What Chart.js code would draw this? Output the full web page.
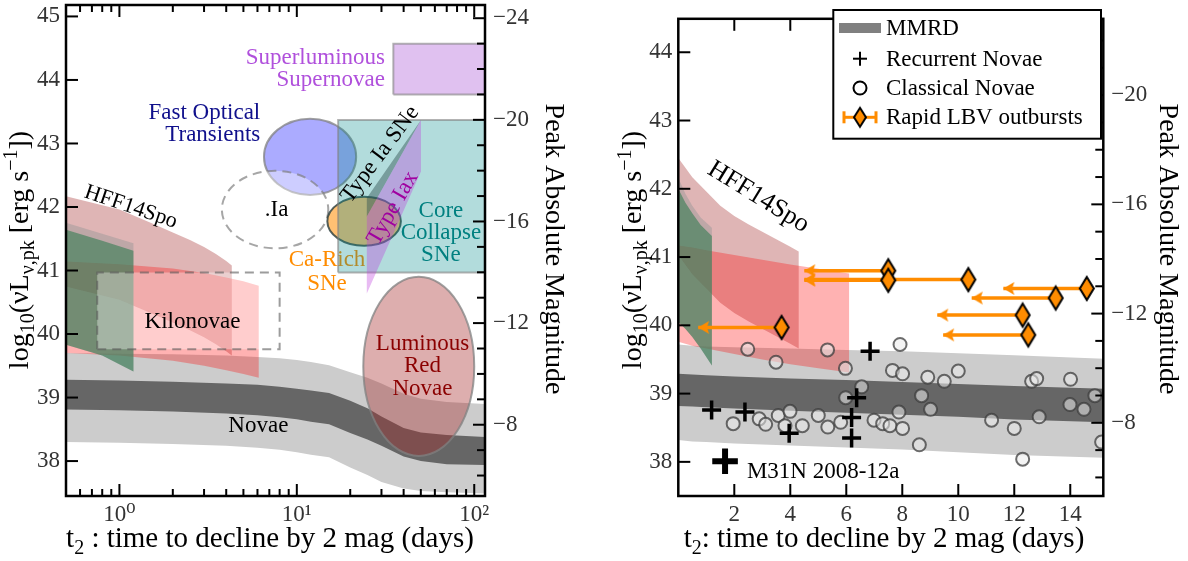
<!DOCTYPE html>
<html><head><meta charset="utf-8"><title>Peak luminosity vs t2</title>
<script src="https://cdn.jsdelivr.net/npm/chart.js@4.4.1/dist/chart.umd.min.js"></script>
<style>
html,body{margin:0;padding:0;background:#fff;width:1188px;height:561px;overflow:hidden}
canvas{position:absolute;top:0}
#cLeft{left:0}
#cRight{left:594px}
</style></head>
<body>
<canvas id="cLeft" width="594" height="561"></canvas>
<canvas id="cRight" width="594" height="561"></canvas>
<script>
const FONT = "'Liberation Serif', 'DejaVu Serif', serif";
const MAG_ZP = 88.43; // M = MAG_ZP - 2.5 log10(L)

// ---------------- axis ranges & ticks ----------------
const leftTRange = [0.5, 115];
const leftLRange = [37.45, 45.18];
const rightTRange = [0, 15.18];
const rightLRange = [37.5, 44.49];
const leftTTicks = [1, 10, 100];
const leftTTickLabels = ['10⁰', '10¹', '10²'];
const leftTMinorTicks = [0.5,0.6,0.7,0.8,0.9,2,3,4,5,6,7,8,9,20,30,40,50,60,70,80,90];
const leftLTicks = [38,39,40,41,42,43,44,45];
const leftMagTicks = [-24,-20,-16,-12,-8];
const rightTTicks = [2,4,6,8,10,12,14];
const rightLTicks = [38,39,40,41,42,43,44];
const rightMagTicks = [-20,-16,-12,-8];

// ---------------- MMRD bands (t2 days, log L) ----------------
const mmrdT        = [0, 0.5, 1, 2, 4, 6, 8, 10, 12, 15.2, 20, 25, 30, 40, 50, 70, 115];
const mmrdOuterTop = [39.72, 39.70, 39.69, 39.68, 39.66, 39.64, 39.62, 39.59, 39.56, 39.51, 39.40, 39.31, 39.22, 39.06, 38.98, 38.93, 38.90];
const mmrdInnerTop = [39.29, 39.28, 39.27, 39.25, 39.22, 39.20, 39.17, 39.14, 39.11, 39.07, 38.95, 38.83, 38.70, 38.52, 38.45, 38.41, 38.38];
const mmrdInnerBot = [38.82, 38.81, 38.80, 38.78, 38.75, 38.72, 38.69, 38.66, 38.62, 38.58, 38.44, 38.34, 38.24, 38.07, 38.00, 37.95, 37.94];
const mmrdOuterBot = [38.32, 38.30, 38.29, 38.27, 38.24, 38.21, 38.18, 38.14, 38.10, 38.06, 37.90, 37.78, 37.67, 37.57, 37.53, 37.51, 37.49];

// ---------------- HFF14Spo constraint regions ----------------
const hffRosyT   = [0, 0.5, 1, 1.5, 2, 2.5, 3, 3.5, 4, 4.3];
const hffRosyTop = [42.45, 42.17, 41.96, 41.75, 41.60, 41.48, 41.37, 41.26, 41.15, 41.08];
const hffRosyBot = [41.03, 40.75, 40.54, 40.33, 40.18, 40.06, 39.95, 39.84, 39.73, 39.66];
const hffRedT    = [0, 0.5, 1, 2, 3, 4, 5, 6.1];
const hffRedTop  = [41.17, 41.14, 41.10, 41.03, 40.96, 40.89, 40.83, 40.76];
const hffRedBot  = [39.76, 39.70, 39.66, 39.58, 39.50, 39.43, 39.37, 39.31];
const hffGreenT  = [0, 0.25, 0.5, 0.8, 1.2];
const hffGreyTop = [42.16, 41.93, 41.75, 41.58, 41.43];
const hffGreenTop= [42.00, 41.80, 41.64, 41.47, 41.31];
const hffGreenBot= [40.05, 39.95, 39.83, 39.66, 39.41];

// ---------------- other transient classes (left panel) ----------------
const ccT = [17.1, 200],  ccL = [40.97, 43.37];
const slsnT = [35, 200],  slsnL = [43.77, 44.57];
const knT = [0.75, 8.0],  knL = [39.76, 40.97];
const iaT  = [50.1, 24.8, 24.8],        iaL  = [43.37, 42.14, 41.85];
const iaxT = [50.1, 50.1, 24.8, 24.8],  iaxL = [43.37, 42.56, 40.64, 41.85];
const ellipseNames = ['Fast Optical Transients', '.Ia', 'Ca-Rich SNe', 'Luminous Red Novae'];
const ellipseTmin = [6.53, 3.78, 14.86, 23.7];
const ellipseTmax = [21.6, 15.04, 38.6, 100];
const ellipseLmin = [42.19, 41.35, 41.39, 38.08];
const ellipseLmax = [43.39, 42.57, 42.16, 40.90];

// ---------------- right panel points ----------------
const cnT = [2.48,3.49,5.33,5.97,6.55,5.98,1.96,2.89,3.12,3.57,3.99,3.81,4.43,5.00,5.34,5.80,6.99,7.30,7.56,7.88,8.01,7.65,8.01,7.92,8.69,8.91,9.01,9.50,10.0,8.61,11.19,12.0,12.3,12.62,12.8,12.89,14.01,13.99,14.49,14.88,15.12];
const cnL = [39.65,39.46,39.64,39.37,39.10,38.94,38.56,38.63,38.55,38.68,38.74,38.53,38.53,38.68,38.51,38.58,38.61,38.56,38.53,38.73,38.49,39.34,39.29,39.72,38.97,39.24,38.77,39.18,39.33,38.25,38.61,38.49,38.04,39.18,39.22,38.66,39.21,38.84,38.77,38.97,38.29];
const rnT = [1.19, 2.38, 3.96, 6.19, 6.19, 6.37, 6.85];
const rnL = [38.76, 38.73, 38.42, 38.65, 38.35, 38.94, 39.62];
const m31T = [1.67], m31L = [38.01];
const lbvT    = [3.69, 7.5, 7.5, 10.36, 14.59, 13.48, 12.3, 12.5];
const lbvL    = [39.97, 40.80, 40.66, 40.67, 40.54, 40.40, 40.15, 39.86];
const lbvTmin = [0.71, 4.5, 4.5, 4.5, 11.61, 10.48, 9.25, 9.46];

// ---------------- helpers ----------------
function pts(ts, ls, keep) { const o=[]; ts.forEach((t,i)=>{ if(!keep||keep(t)) o.push({x:t,y:ls[i]}); }); return o; }
function bandPts(ts, top, bot, keep) { return pts(ts,top,keep).concat(pts(ts,bot,keep).reverse()); }
function boxPts(tr, lr) { return [{x:tr[0],y:lr[0]},{x:tr[1],y:lr[0]},{x:tr[1],y:lr[1]},{x:tr[0],y:lr[1]},{x:tr[0],y:lr[0]}]; }
function closed(p) { return p.concat([p[0]]); }
function areaDs(label, data, fill, stroke, lw, dash) {
  return {type:'line', label, data, fill:'shape', backgroundColor:fill,
    borderColor: stroke || 'rgba(0,0,0,0)', borderWidth: stroke ? (lw||2) : 0, borderDash: dash||[],
    pointRadius:0, pointHoverRadius:0, tension:0};
}
function ellipseDs(i, fill, stroke, dash) {
  return {type:'scatter', label: ellipseNames[i],
    data:[{x:Math.sqrt(ellipseTmin[i]*ellipseTmax[i]), y:(ellipseLmin[i]+ellipseLmax[i])/2}],
    pointRadius:0, backgroundColor:'rgba(0,0,0,0)', borderColor:'rgba(0,0,0,0)',
    ellipse:{t0:ellipseTmin[i], t1:ellipseTmax[i], L0:ellipseLmin[i], L1:ellipseLmax[i], fill, stroke, dash}};
}
function setOrder(list){ list.forEach((d,i)=>{ d.order = list.length - i; }); return list; }

function diamondImg(w,h,lw){
  const c=document.createElement('canvas'); c.width=w+lw*2+2; c.height=h+lw*2+2;
  const g=c.getContext('2d'); const cx=c.width/2, cy=c.height/2;
  g.beginPath(); g.moveTo(cx,cy-h/2); g.lineTo(cx+w/2,cy); g.lineTo(cx,cy+h/2); g.lineTo(cx-w/2,cy); g.closePath();
  g.fillStyle='#ff8c00'; g.fill(); g.lineWidth=lw; g.strokeStyle='#000'; g.lineJoin='miter'; g.stroke();
  return c;
}
function arrowImg(len, half){
  const c=document.createElement('canvas'); c.width=2*len+4; c.height=2*half+4;
  const g=c.getContext('2d'); const cx=c.width/2, cy=c.height/2;
  g.beginPath(); g.moveTo(cx,cy); g.lineTo(cx+len,cy-half); g.lineTo(cx+len*0.8,cy); g.lineTo(cx+len,cy+half); g.closePath();
  g.fillStyle='#ff8c00'; g.fill();
  return c;
}

function drawRich(ctx, parts, cx, cy, rotDeg, size) {
  ctx.save(); ctx.translate(cx, cy); ctx.rotate(rotDeg*Math.PI/180);
  ctx.fillStyle='#000'; ctx.textBaseline='alphabetic'; ctx.textAlign='left';
  const fonts = parts.map(p => `${p.s ? Math.round(size*0.7) : size}px ${FONT}`);
  const widths = parts.map((p,i)=>{ ctx.font=fonts[i]; return ctx.measureText(p.t).width; });
  let x = -widths.reduce((a,b)=>a+b,0)/2;
  const base = size*0.32;
  parts.forEach((p,i)=>{ ctx.font=fonts[i];
    const dy = p.s==='sub' ? size*0.22 : (p.s==='sup' ? -size*0.38 : 0);
    ctx.fillText(p.t, x, base+dy); x += widths[i]; });
  ctx.restore();
}
function drawLabel(chart, l) {
  const {ctx, scales} = chart;
  const x = scales.x.getPixelForValue(l.t), y = scales.y.getPixelForValue(l.L);
  ctx.save(); ctx.translate(x, y); ctx.rotate((l.rot||0)*Math.PI/180);
  ctx.font = `${l.size||23}px ${FONT}`; ctx.fillStyle = l.color||'#000';
  ctx.textAlign = l.align||'center'; ctx.textBaseline='middle';
  ctx.fillText(l.text, 0, 0); ctx.restore();
}
function drawEllipse(chart, e) {
  const {ctx, chartArea:a, scales:{x,y}} = chart;
  const x0=x.getPixelForValue(e.t0), x1=x.getPixelForValue(e.t1), y0=y.getPixelForValue(e.L0), y1=y.getPixelForValue(e.L1);
  ctx.save(); ctx.beginPath(); ctx.rect(a.left,a.top,a.right-a.left,a.bottom-a.top); ctx.clip();
  ctx.beginPath(); ctx.ellipse((x0+x1)/2,(y0+y1)/2,Math.abs(x1-x0)/2,Math.abs(y1-y0)/2,0,0,Math.PI*2);
  ctx.fillStyle=e.fill; ctx.fill();
  if (e.stroke) { ctx.lineWidth=2; ctx.strokeStyle=e.stroke; ctx.setLineDash(e.dash||[]); ctx.stroke(); }
  ctx.restore();
}
function seg(ctx,x0,y0,x1,y1){ ctx.beginPath(); ctx.moveTo(x0,y0); ctx.lineTo(x1,y1); ctx.stroke(); }

const overlays = {};
const overlayPlugin = {
  id:'overlay',
  afterDatasetDraw(chart, args) {
    const ov = overlays[chart.canvas.id]; if (!ov) return;
    const ds = chart.data.datasets[args.index];
    if (ds.ellipse) drawEllipse(chart, ds.ellipse);
    ov.labels.filter(l => l.after === ds.label).forEach(l => drawLabel(chart, l));
  },
  afterDatasetsDraw(chart) {
    const ov = overlays[chart.canvas.id]; if (!ov) return;
    ov.labels.filter(l => !l.after).forEach(l => drawLabel(chart, l));
  },
  afterDraw(chart) {
    const ov = overlays[chart.canvas.id]; if (!ov) return;
    const {ctx, chartArea:a, scales} = chart;
    ctx.save(); ctx.strokeStyle='#000'; ctx.lineWidth=2;
    ov.xTicks.forEach(([v,len]) => { const p=scales.x.getPixelForValue(v); seg(ctx,p,a.bottom,p,a.bottom-len); seg(ctx,p,a.top,p,a.top+len); });
    ov.yTicks.forEach(v => { const p=scales.y.getPixelForValue(v); seg(ctx,a.left,p,a.left+12,p); });
    const m0 = Math.ceil(scales.y2.min), m1 = Math.floor(scales.y2.max);
    for (let m=m0; m<=m1; m++) { const p=scales.y2.getPixelForValue(m); const len = (m%4===0)?12:8; seg(ctx,a.right,p,a.right-len,p); }
    ctx.lineWidth=2.5; ctx.strokeRect(a.left,a.top,a.right-a.left,a.bottom-a.top);
    ctx.restore();
    ov.titles.forEach(t => drawRich(ctx, t.parts, t.x, t.y, t.rot, t.size));
    if (ov.legend) ov.legend(ctx);
  }
};
Chart.register(overlayPlugin);

function makeOptions(o) {
  const tickFont = {family:FONT, size:23};
  return {
    responsive:false, animation:false, events:[],
    layout:{padding:{top:5,left:0,right:0,bottom:0}},
    plugins:{legend:{display:false}, tooltip:{enabled:false}},
    scales:{
      x:{type:o.xType, position:'bottom', min:o.xRange[0], max:o.xRange[1],
        grid:{display:false, drawTicks:false}, border:{display:false},
        ticks:{autoSkip:false, maxRotation:0, minRotation:0, padding:5, color:'#333', font:tickFont, callback:o.xLabel},
        afterBuildTicks:s=>{ s.ticks = o.xTicks.map(v=>({value:v})); },
        afterFit:s=>{ s.height=65; s.paddingLeft=0; s.paddingRight=0; }},
      y:{type:'linear', position:'left', min:o.yRange[0], max:o.yRange[1],
        grid:{display:false, drawTicks:false}, border:{display:false},
        ticks:{padding:6, color:'#333', font:tickFont, callback:v=>String(v)},
        afterBuildTicks:s=>{ s.ticks = o.yTicks.map(v=>({value:v})); },
        afterFit:s=>{ s.width=o.yW; s.paddingTop=0; s.paddingBottom=0; }},
      y2:{type:'linear', position:'right', reverse:true,
        min: MAG_ZP - 2.5*o.yRange[1], max: MAG_ZP - 2.5*o.yRange[0],
        grid:{display:false, drawTicks:false}, border:{display:false},
        ticks:{padding:8, color:'#333', font:tickFont, callback:v=>(v<0?'−':'')+Math.abs(v)},
        afterBuildTicks:s=>{ s.ticks = o.magTicks.map(v=>({value:v})); },
        afterFit:s=>{ s.width=o.y2W; s.paddingTop=0; s.paddingBottom=0; }}
    }
  };
}

const yTitleParts = [{t:'log'},{t:'10',s:'sub'},{t:'(νL'},{t:'ν,pk',s:'sub'},{t:' [erg s'},{t:'−1',s:'sup'},{t:'])'}];
const magTitleParts = [{t:'Peak Absolute Magnitude'}];
const xTitleLeftParts = [{t:'t'},{t:'2',s:'sub'},{t:' : time to decline by 2 mag (days)'}];
const xTitleRightParts = [{t:'t'},{t:'2',s:'sub'},{t:': time to decline by 2 mag (days)'}];

function init() {
// ================= LEFT PANEL =================
const posT = t => t > 0;
const leftDatasets = setOrder([
  areaDs('MMRD 2σ', bandPts(mmrdT, mmrdOuterTop, mmrdOuterBot, posT), '#cccccc'),
  areaDs('MMRD 1σ', bandPts(mmrdT, mmrdInnerTop, mmrdInnerBot, posT), '#666666'),
  areaDs('HFF14Spo A', bandPts(hffRosyT, hffRosyTop, hffRosyBot, posT), 'rgba(170,60,60,0.38)'),
  areaDs('HFF14Spo B', bandPts(hffRedT, hffRedTop, hffRedBot, posT), 'rgba(255,0,0,0.3)'),
  areaDs('HFF14Spo C', bandPts(hffGreenT, hffGreyTop, hffGreenBot, posT), 'rgba(150,150,150,0.45)'),
  areaDs('HFF14Spo D', bandPts(hffGreenT, hffGreenTop, hffGreenBot, posT), 'rgba(40,120,75,0.55)'),
  areaDs('Kilonovae', boxPts(knT, knL), 'rgba(255,255,255,0.35)', 'rgba(90,90,90,0.6)', 2, [9,6]),
  ellipseDs(0, 'rgba(0,0,255,0.33)', 'rgba(128,128,128,0.75)'),
  ellipseDs(1, 'rgba(255,255,255,0.4)', 'rgba(128,128,128,0.7)', [9,6]),
  ellipseDs(2, 'rgba(255,140,0,0.55)', 'rgba(40,60,60,0.8)'),
  areaDs('Core Collapse SNe', boxPts(ccT, ccL), 'rgba(0,139,139,0.3)', 'rgba(128,128,128,0.6)', 2),
  areaDs('Type Ia SNe', closed(pts(iaT, iaL)), 'rgba(47,79,79,0.45)'),
  areaDs('Type Iax', closed(pts(iaxT, iaxL)), 'rgba(190,60,220,0.35)'),
  areaDs('Superluminous Supernovae', boxPts(slsnT, slsnL), 'rgba(153,50,204,0.3)', 'rgba(128,128,128,0.6)', 2),
  ellipseDs(3, 'rgba(165,42,42,0.38)', 'rgba(128,128,128,0.75)')
]);
overlays.cLeft = {
  xTicks: leftTTicks.map(v=>[v,12]).concat(leftTMinorTicks.map(v=>[v,7])),
  yTicks: leftLTicks,
  labels: [
    {text:'Superluminous', t:31.4, L:44.34, color:'#b050dc', align:'right'},
    {text:'Supernovae', t:31.4, L:44.0, color:'#b050dc', align:'right'},
    {text:'Fast Optical', t:6.22, L:43.48, color:'#10108c', align:'right'},
    {text:'Transients', t:6.22, L:43.13, color:'#10108c', align:'right'},
    {text:'.Ia', t:7.69, L:41.96},
    {text:'Ca-Rich', t:14.8, L:41.17, color:'#ff8c00', after:'Ca-Rich SNe'},
    {text:'SNe', t:14.8, L:40.79, color:'#ff8c00', after:'Ca-Rich SNe'},
    {text:'Type Ia SNe', t:29.5, L:42.83, rot:-53, size:23},
    {text:'Type Iax', t:34.8, L:41.98, rot:-60, size:23, color:'#a000a0'},
    {text:'Core', t:64.9, L:41.94, color:'#008080'},
    {text:'Collapse', t:64.9, L:41.59, color:'#008080'},
    {text:'SNe', t:64.9, L:41.24, color:'#008080'},
    {text:'HFF14Spo', t:1.16, L:42.0, rot:18.7, size:22},
    {text:'Kilonovae', t:2.58, L:40.19},
    {text:'Novae', t:6.07, L:38.56},
    {text:'Luminous', t:51.1, L:39.85, color:'#8b0000'},
    {text:'Red', t:51.1, L:39.50, color:'#8b0000'},
    {text:'Novae', t:51.1, L:39.14, color:'#8b0000'}
  ],
  titles: [
    {parts:xTitleLeftParts, x:270, y:538, rot:0, size:29},
    {parts:yTitleParts, x:19, y:250, rot:-90, size:28},
    {parts:magTitleParts, x:555, y:249, rot:90, size:28}
  ]
};
new Chart(document.getElementById('cLeft'), {
  type:'scatter',
  data:{datasets:leftDatasets},
  options: makeOptions({xType:'logarithmic', xRange:leftTRange, yRange:leftLRange, xTicks:leftTTicks,
    xLabel:(v)=>leftTTickLabels[leftTTicks.indexOf(v)] || '', yTicks:leftLTicks, magTicks:leftMagTicks, yW:66, y2W:109})
});

// ================= RIGHT PANEL =================
const diamond = diamondImg(14, 23, 2);
const arrowHead = arrowImg(11, 6.5);
const arrowSets = lbvT.map((t,i)=>({type:'line', label:'LBV t2 limit '+(i+1),
  data:[{x:lbvTmin[i], y:lbvL[i]}, {x:t, y:lbvL[i]}], borderColor:'#ff8c00', backgroundColor:'#ff8c00',
  borderWidth:3.5, fill:false, pointStyle:[arrowHead,'circle'], pointRadius:[10,0], pointHoverRadius:0}));
const rightDatasets = setOrder([
  areaDs('MMRD 2σ', bandPts(mmrdT, mmrdOuterTop, mmrdOuterBot), '#cccccc'),
  areaDs('MMRD 1σ', bandPts(mmrdT, mmrdInnerTop, mmrdInnerBot), '#666666'),
  areaDs('HFF14Spo A', bandPts(hffRosyT, hffRosyTop, hffRosyBot), 'rgba(170,60,60,0.38)'),
  areaDs('HFF14Spo B', bandPts(hffRedT, hffRedTop, hffRedBot), 'rgba(255,0,0,0.3)'),
  areaDs('HFF14Spo C', bandPts(hffGreenT, hffGreyTop, hffGreenBot), 'rgba(150,150,150,0.45)'),
  areaDs('HFF14Spo D', bandPts(hffGreenT, hffGreenTop, hffGreenBot), 'rgba(40,120,75,0.55)'),
  {type:'scatter', label:'Classical Novae', data:pts(cnT, cnL), pointStyle:'circle', pointRadius:6.5,
    backgroundColor:'rgba(235,235,235,0.55)', borderColor:'rgba(60,60,60,0.75)', borderWidth:2},
  ...arrowSets,
  {type:'scatter', label:'Rapid LBV outbursts', data:pts(lbvT, lbvL), pointStyle:diamond, pointRadius:12},
  {type:'scatter', label:'Recurrent Novae', data:pts(rnT, rnL), pointStyle:'cross', pointRadius:9.5, borderColor:'#000', borderWidth:3.5},
  {type:'scatter', label:'M31N 2008-12a', data:pts(m31T, m31L), pointStyle:'cross', pointRadius:12.8, borderColor:'#000', borderWidth:6}
]);
overlays.cRight = {
  xTicks: rightTTicks.map(v=>[v,12]),
  yTicks: rightLTicks,
  labels: [
    {text:'HFF14Spo', t:2.86, L:41.88, rot:31.6, size:26},
    {text:'M31N 2008-12a', t:2.45, L:37.85, align:'left'}
  ],
  titles: [
    {parts:xTitleRightParts, x:290, y:538, rot:0, size:29},
    {parts:yTitleParts, x:38.3, y:250, rot:-90, size:28},
    {parts:magTitleParts, x:575, y:249, rot:90, size:28}
  ],
  legend(ctx) {
    const bx=239.3, by=10, bw=267.7, bh=128.7, sx=266, tx=292, rows=[28, 58.7, 88, 117.3];
    const names=['MMRD','Recurrent Novae','Classical Novae','Rapid LBV outbursts'];
    ctx.save();
    ctx.fillStyle='#fff'; ctx.fillRect(bx,by,bw,bh);
    ctx.lineWidth=2; ctx.strokeStyle='#000'; ctx.strokeRect(bx,by,bw,bh);
    ctx.strokeStyle='#808080'; ctx.lineWidth=10; seg(ctx,sx-21,rows[0],sx+21,rows[0]);
    ctx.strokeStyle='#000'; ctx.lineWidth=2; seg(ctx,sx-7,rows[1],sx+7,rows[1]); seg(ctx,sx,rows[1]-7,sx,rows[1]+7);
    ctx.beginPath(); ctx.arc(sx,rows[2],6.5,0,Math.PI*2); ctx.fillStyle='#fff'; ctx.fill(); ctx.stroke();
    ctx.strokeStyle='#ff8c00'; ctx.lineWidth=3; seg(ctx,sx-16,rows[3],sx+16,rows[3]);
    seg(ctx,sx-16,rows[3]-6,sx-16,rows[3]+6); seg(ctx,sx+16,rows[3]-6,sx+16,rows[3]+6);
    ctx.drawImage(diamondImg(12,19,2), sx-(12+6)/2, rows[3]-(19+6)/2);
    ctx.fillStyle='#000'; ctx.font=`23px ${FONT}`; ctx.textAlign='left'; ctx.textBaseline='middle';
    names.forEach((n,i)=>ctx.fillText(n, tx, rows[i]+1));
    ctx.restore();
  }
};
new Chart(document.getElementById('cRight'), {
  type:'scatter',
  data:{datasets:rightDatasets},
  options: makeOptions({xType:'linear', xRange:rightTRange, yRange:rightLRange, xTicks:rightTTicks,
    xLabel:(v)=>String(v), yTicks:rightLTicks, magTicks:rightMagTicks, yW:84.3, y2W:84.7})
});
}

let started = false;
function start(){ if (started) return; started = true; init(); }
if (document.fonts && document.fonts.load) {
  Promise.all([document.fonts.load('23px "Liberation Serif"'), document.fonts.load('23px "DejaVu Serif"')]).then(start, start);
  setTimeout(start, 1500);
} else { start(); }
</script>
</body></html>
